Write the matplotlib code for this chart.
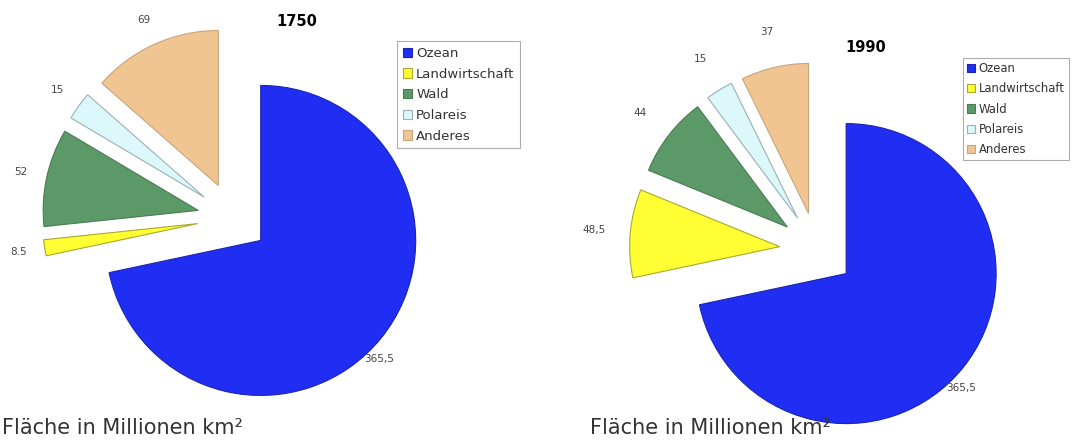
import numpy as np
import matplotlib
matplotlib.use("Agg")
import matplotlib.pyplot as plt

plt.rcParams['font.family'] = ['DejaVu Sans']

# Flächennutzung der Erde in Millionen km2
categories = ["Ozean", "Landwirtschaft", "Wald", "Polareis", "Anderes"]
years = ["1750", "1990"]
area_1750 = [365.5, 8.5, 52, 15, 69]
area_1990 = [365.5, 48.5, 44, 15, 37]
labels_1750 = ["365,5", "8.5", "52", "15", "69"]
labels_1990 = ["365,5", "48,5", "44", "15", "37"]

face_colors = ["#1f2ef2", "#ffff33", "#5b9a68", "#dcf8fb", "#f0c592"]
edge_colors = ["#1a24b0", "#a8a830", "#4a7a52", "#9ab0b4", "#c8a47a"]

fig = plt.figure(figsize=(10.72, 4.41), dpi=100)
W, H = 1072, 441


def draw_pie(rect, values, labels, cx, cy, r, expl, lab_dist):
    ax = fig.add_axes(rect)
    wedges, texts = ax.pie(values, labels=labels, colors=face_colors,
                           explode=[expl] * len(values), startangle=90,
                           counterclock=False,
                           wedgeprops=dict(linewidth=0.8),
                           textprops=dict(fontsize=7.5, color="#444444"))
    for w, ec in zip(wedges, edge_colors):
        w.set_edgecolor(ec)
    # small slices: label along the slice middle; big ocean slice: lower right
    for i, (w, t) in enumerate(zip(wedges, texts)):
        if i == 0:
            ang, d = np.radians(-45), 1.08
        else:
            ang, d = np.radians((w.theta1 + w.theta2) / 2), lab_dist
        x0, y0 = w.center
        t.set_position((x0 + d * np.cos(ang), y0 + d * np.sin(ang)))
        t.set_ha("center")
        t.set_va("center")
    # one data unit = r pixels, pie centre at (cx, cy) pixels
    x_left = rect[0] * W
    y_bot = rect[1] * H
    w_px = rect[2] * W
    h_px = rect[3] * H
    ax.set_xlim(-(cx - x_left) / r, (x_left + w_px - cx) / r)
    ax.set_ylim(-(H - cy - y_bot) / r, (y_bot + h_px - (H - cy)) / r)
    ax.set_aspect("auto")
    ax.axis("off")
    return ax, wedges


ax1, w1 = draw_pie([0, 0, 0.5, 1], area_1750, labels_1750,
                   233, 218, 155, 0.23, 1.17)
ax2, w2 = draw_pie([0.5, 0, 0.5, 1], area_1990, labels_1990,
                   817, 250, 150, 0.25, 1.24)

fig.text(297 / W, 1 - 22 / H, years[0], fontsize=10.5, fontweight="bold",
         ha="center", va="center")
fig.text(866 / W, 1 - 47 / H, years[1], fontsize=10.5, fontweight="bold",
         ha="center", va="center")

for w, anchor, fs, ls, bp in [(w1, (397 / W, 1 - 41 / H), 9.5, 0.58, 0.45),
                              (w2, (963 / W, 1 - 58 / H), 8.4, 0.62, 0.35)]:
    leg = fig.legend(w, categories, loc="upper left", bbox_to_anchor=anchor,
                     bbox_transform=fig.transFigure, borderaxespad=0,
                     fontsize=fs, frameon=True, fancybox=False,
                     handlelength=0.7, handleheight=0.7, handletextpad=0.3,
                     labelspacing=ls, borderpad=bp)
    leg.get_frame().set_edgecolor("#999999")
    leg.get_frame().set_linewidth(0.8)
    for t in leg.get_texts():
        t.set_color("#333333")

fig.text(2 / W, 1 - 428 / H, "Fläche in Millionen km²", fontsize=15,
         color="#333333", ha="left", va="center")
fig.text(590 / W, 1 - 428 / H, "Fläche in Millionen km²", fontsize=15,
         color="#333333", ha="left", va="center")

fig.savefig("out.png", dpi=100)
